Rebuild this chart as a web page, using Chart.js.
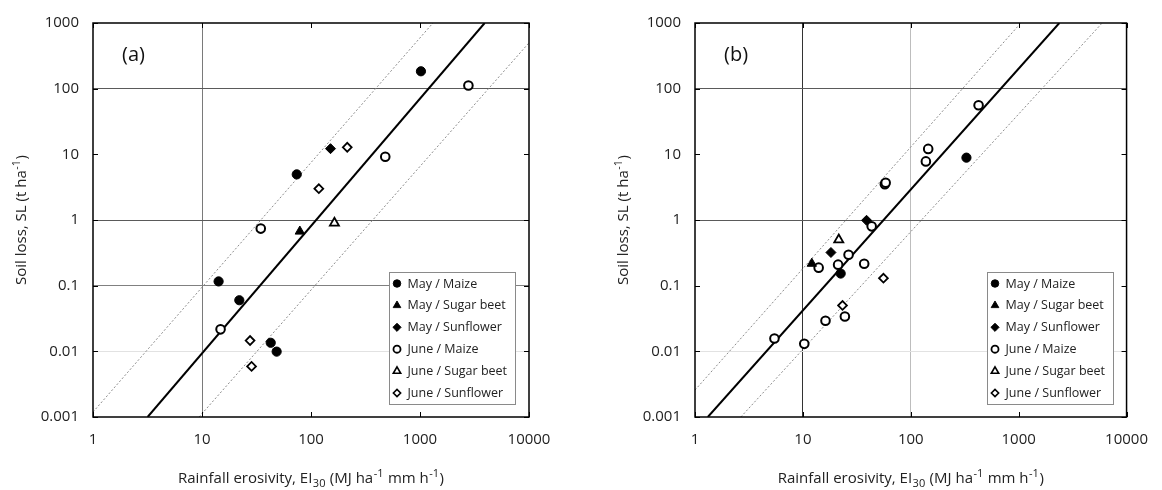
<!DOCTYPE html>
<html><head><meta charset="utf-8">
<script src="https://cdn.jsdelivr.net/npm/chart.js@4.4.1/dist/chart.umd.min.js"></script>
<style>
html,body{margin:0;padding:0;background:#fff;}
#wrap{position:relative;width:1162px;height:490px;overflow:hidden;}
canvas{position:absolute;top:0;}
#ca{left:0;} #cb{left:581px;}
</style></head><body>
<div id="wrap"><canvas id="ca" width="581" height="490"></canvas><canvas id="cb" width="581" height="490"></canvas></div>
<script>
// ---------- data ----------
const seriesNames = ['May / Maize','May / Sugar beet','May / Sunflower','June / Maize','June / Sugar beet','June / Sunflower'];
const xTickValues = [1, 10, 100, 1000, 10000];
const xTickLabels = ['1', '10', '100', '1000', '10000'];
const yTickValues = [0.001, 0.01, 0.1, 1, 10, 100, 1000];
const yTickLabels = ['0.001', '0.01', '0.1', '1', '10', '100', '1000'];

// Panel (a)
const aMayMaizeX = [1020, 74, 14.2, 22, 42.7, 48.4];
const aMayMaizeY = [184, 4.95, 0.116, 0.060, 0.0135, 0.0099];
const aMaySugarX = [79];
const aMaySugarY = [0.67];
const aMaySunX = [151];
const aMaySunY = [12.2];
const aJunMaizeX = [2780, 480, 34.6, 14.8];
const aJunMaizeY = [112, 9.2, 0.74, 0.0216];
const aJunSugarX = [164];
const aJunSugarY = [0.9];
const aJunSunX = [215, 118, 27.6, 28.5];
const aJunSunY = [12.8, 3.0, 0.0146, 0.0059];
const aFitX = [3.17, 3920];
const aFitY = [0.001, 1000];
const aUpperX = [1, 1315];
const aUpperY = [0.00119, 1000];
const aLowerX = [9.4, 10000];
const aLowerY = [0.001, 500];

// Panel (b)
const bMayMaizeX = [328, 22.4];
const bMayMaizeY = [8.9, 0.153];
const bMaySugarX = [12.1];
const bMaySugarY = [0.217];
const bMaySunX = [38.9, 18.2];
const bMaySunY = [0.99, 0.32];
const bJunMaizeX = [425, 145, 138, 57.5, 58.5, 43.4, 26.5, 14, 21.2, 37, 16.2, 24.5, 5.45, 10.3];
const bJunMaizeY = [56, 12.1, 7.8, 3.5, 3.7, 0.8, 0.295, 0.188, 0.209, 0.216, 0.0292, 0.034, 0.0157, 0.013];
const bJunSugarX = [21.5];
const bJunSugarY = [0.5];
const bJunSunX = [55.8, 23.3];
const bJunSunY = [0.13, 0.050];
const bFitX = [1.315, 2382];
const bFitY = [0.001, 1000];
const bUpperX = [1, 1047];
const bUpperY = [0.00257, 1000];
const bLowerX = [2.66, 5866];
const bLowerY = [0.001, 977];

// ---------- styles ----------
const FONT = "'Open Sans', 'Noto Sans', sans-serif";
Chart.defaults.font.family = FONT;
const markerStyles = [
  {pointStyle:'circle',   radius:4.6, bg:'#000', bw:1},
  {pointStyle:'triangle', radius:5.4, bg:'#000', bw:1},
  {pointStyle:'rectRot',  radius:5.0, bg:'#000', bw:1},
  {pointStyle:'circle',   radius:4.3, bg:'#fff', bw:2},
  {pointStyle:'triangle', radius:5.2, bg:'#fff', bw:1.8},
  {pointStyle:'rectRot',  radius:4.4, bg:'#fff', bw:1.8}
];
const zip = (xs, ys) => xs.map((x, i) => ({x: x, y: ys[i]}));

function buildDatasets(series, fit, upper, lower) {
  const ds = series.map((s, i) => ({
    label: seriesNames[i],
    data: zip(s[0], s[1]),
    pointStyle: markerStyles[i].pointStyle,
    pointRadius: markerStyles[i].radius,
    backgroundColor: markerStyles[i].bg,
    borderColor: '#000',
    borderWidth: markerStyles[i].bw,
    showLine: false,
    order: 0,
    isMarker: true
  }));
  const line = (d, color, w, dash) => ({
    label: '', data: zip(d[0], d[1]), showLine: true, pointRadius: 0,
    borderColor: color, borderWidth: w, borderDash: dash, backgroundColor: color,
    order: 10, fill: false
  });
  ds.push(line(upper, '#8c8c8c', 1, [2, 2]));
  ds.push(line(lower, '#8c8c8c', 1, [2, 2]));
  ds.push(line(fit, '#000', 2, []));
  return ds;
}

// frame, inward ticks, legend, panel label, axis titles
const decorPlugin = {
  id: 'decor',
  afterDraw(chart) {
    const o = chart.options.plugins.decor;
    const ctx = chart.ctx, a = chart.chartArea;
    const xs = chart.scales.x, ys = chart.scales.y;
    ctx.save();
    // inward ticks
    ctx.strokeStyle = '#000'; ctx.lineWidth = 1;
    ctx.beginPath();
    xTickValues.forEach(v => {
      const px = Math.round(xs.getPixelForValue(v)) + 0.5;
      ctx.moveTo(px, a.bottom); ctx.lineTo(px, a.bottom - 5);
      ctx.moveTo(px, a.top); ctx.lineTo(px, a.top + 5);
    });
    yTickValues.forEach(v => {
      const py = Math.round(ys.getPixelForValue(v)) + 0.5;
      ctx.moveTo(a.left, py); ctx.lineTo(a.left + 5, py);
      ctx.moveTo(a.right, py); ctx.lineTo(a.right - 5, py);
    });
    ctx.stroke();
    // frame
    ctx.lineWidth = 1.5;
    ctx.strokeRect(a.left, a.top, a.right - a.left, a.bottom - a.top);

    // legend
    const bw = 126, bh = 132;
    const bx = Math.round(a.right - 14 - bw) + 0.5, by = Math.round(a.bottom - 13 - bh) + 0.5;
    ctx.fillStyle = '#fff';
    ctx.fillRect(bx, by, bw, bh);
    ctx.strokeStyle = '#8a8a8a'; ctx.lineWidth = 1;
    ctx.strokeRect(bx, by, bw, bh);
    const markers = chart.data.datasets.filter(d => d.isMarker);
    ctx.font = '12.5px ' + FONT;
    ctx.textBaseline = 'middle'; ctx.textAlign = 'left';
    markers.forEach((d, i) => {
      const cy = by + 11 + i * 21.9;
      const st = {pointStyle: d.pointStyle, radius: d.pointRadius * 0.82, borderWidth: d.borderWidth * 0.9, rotation: 0};
      ctx.fillStyle = d.backgroundColor; ctx.strokeStyle = '#000'; ctx.lineWidth = st.borderWidth;
      Chart.helpers.drawPoint(ctx, st, bx + 7.5, cy);
      ctx.fillStyle = '#222';
      ctx.fillText(d.label, bx + 18, cy + 0.5);
    });

    // panel label
    ctx.fillStyle = '#111';
    ctx.font = '20px ' + FONT;
    ctx.textBaseline = 'middle'; ctx.textAlign = 'left';
    ctx.fillText(o.panel, a.left + 29, 55);

    // rich text helper
    function rich(parts, cx, baseline) {
      const big = '15px ' + FONT, small = '11px ' + FONT;
      let total = 0;
      parts.forEach(p => { ctx.font = p.s ? small : big; p.w = ctx.measureText(p.t).width + (p.s ? 1 : 0); total += p.w; });
      let x = cx - total / 2;
      ctx.textAlign = 'left'; ctx.textBaseline = 'alphabetic';
      parts.forEach(p => {
        ctx.font = p.s ? small : big;
        const dy = p.s === 'sub' ? 3.5 : (p.s === 'sup' ? -6 : 0);
        ctx.fillText(p.t, x + (p.s ? 0.5 : 0), baseline + dy);
        x += p.w;
      });
    }
    ctx.fillStyle = '#222';
    rich([{t:'Rainfall erosivity, EI'}, {t:'30', s:'sub'}, {t:' (MJ ha'}, {t:'-1', s:'sup'},
          {t:' mm h'}, {t:'-1', s:'sup'}, {t:')'}], (a.left + a.right) / 2, 483);
    ctx.save();
    ctx.translate(a.left - 67.5, (a.top + a.bottom) / 2);
    ctx.rotate(-Math.PI / 2);
    rich([{t:'Soil loss, SL (t ha'}, {t:'-1', s:'sup'}, {t:')'}], 0, 0);
    ctx.restore();
    ctx.restore();
  }
};

function makeChart(id, panel, datasets, yWidth, rightPad, xGrid, yGrid) {
  const gridColor = (map) => (c) => (c.tick && map[c.tick.value] !== undefined) ? map[c.tick.value] : 'rgba(0,0,0,0)';
  return new Chart(document.getElementById(id), {
    type: 'scatter',
    data: { datasets: datasets },
    options: {
      responsive: false, animation: false, events: [],
      layout: { padding: { left: 0, right: rightPad, top: 17, bottom: 0 } },
      plugins: { legend: { display: false }, tooltip: { enabled: false }, decor: { panel: panel } },
      scales: {
        x: {
          type: 'logarithmic', min: 1, max: 10000,
          afterBuildTicks: s => { s.ticks = xTickValues.map(v => ({value: v})); },
          afterFit: s => { s.height = 73; },
          ticks: { font: { size: 15 }, color: '#222', padding: 14, maxRotation: 0, autoSkip: false,
                   callback: v => xTickLabels[xTickValues.indexOf(v)] },
          grid: { drawTicks: false, color: gridColor(xGrid), lineWidth: 1 },
          border: { display: false }
        },
        y: {
          type: 'logarithmic', min: 0.001, max: 1000,
          afterBuildTicks: s => { s.ticks = yTickValues.map(v => ({value: v})); },
          afterFit: s => { s.width = yWidth; },
          ticks: { font: { size: 15 }, color: '#222', padding: 14, autoSkip: false,
                   callback: v => yTickLabels[yTickValues.indexOf(v)] },
          grid: { drawTicks: false, color: gridColor(yGrid), lineWidth: 1 },
          border: { display: false }
        }
      }
    },
    plugins: [decorPlugin]
  });
}

makeChart('ca', '(a)',
  buildDatasets([[aMayMaizeX, aMayMaizeY], [aMaySugarX, aMaySugarY], [aMaySunX, aMaySunY],
                 [aJunMaizeX, aJunMaizeY], [aJunSugarX, aJunSugarY], [aJunSunX, aJunSunY]],
                [aFitX, aFitY], [aUpperX, aUpperY], [aLowerX, aLowerY]),
  93, 52,
  {10: '#7a7a7a'},
  {100: '#5a5a5a', 1: '#5a5a5a', 0.1: '#808080', 0.01: '#e2e2e2'});

makeChart('cb', '(b)',
  buildDatasets([[bMayMaizeX, bMayMaizeY], [bMaySugarX, bMaySugarY], [bMaySunX, bMaySunY],
                 [bJunMaizeX, bJunMaizeY], [bJunSugarX, bJunSugarY], [bJunSunX, bJunSunY]],
                [bFitX, bFitY], [bUpperX, bUpperY], [bLowerX, bLowerY]),
  114, 31,
  {10: '#333333', 100: '#bdbdbd'},
  {100: '#5a5a5a', 1: '#5a5a5a', 0.01: '#e2e2e2'});
</script>
</body></html>
